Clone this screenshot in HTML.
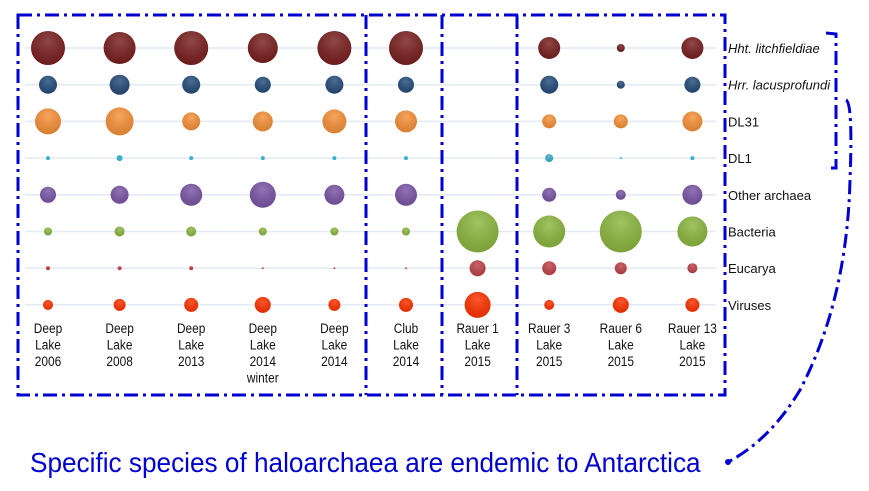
<!DOCTYPE html>
<html><head><meta charset="utf-8"><style>
body{margin:0;background:#fff;}
svg{display:block;font-family:"Liberation Sans",sans-serif;}
</style></head><body>
<svg id="chart" width="869" height="491" viewBox="0 0 869 491">
<defs>
<radialGradient id="shade" cx="50%" cy="30%" r="70%"><stop offset="0" stop-color="#fff" stop-opacity="0.18"/><stop offset="1" stop-color="#000" stop-opacity="0.12"/></radialGradient>
</defs>
<g id="grid"></g>
<g id="bubbles"></g>
<g id="xlabels"></g>
<g id="ylabels"></g>
<g fill="none" stroke="#0000d0" stroke-width="3" stroke-dasharray="14,5,3,5">
<rect x="18" y="15" width="707" height="380"/>
<line x1="366" y1="15" x2="366" y2="395"/>
<line x1="442" y1="15" x2="442" y2="395"/>
<line x1="517" y1="15" x2="517" y2="395"/>
<path d="M826,33 L836,34 L836,168 L826,168"/>
<path d="M846,100 Q853,103 850,180 Q847,300 800,390 Q770,440 728,462"/>
</g>
<circle cx="728" cy="462" r="3" fill="#0000d0"/>
<text x="30" y="472" font-size="28" fill="#0000d0" transform="translate(30,0) scale(0.935,1) translate(-30,0)">Specific species of haloarchaea are endemic to Antarctica</text>
</svg>
<script>
const categories=["Deep|Lake|2006","Deep|Lake|2008","Deep|Lake|2013","Deep|Lake|2014|winter","Deep|Lake|2014","Club|Lake|2014","Rauer 1|Lake|2015","Rauer 3|Lake|2015","Rauer 6|Lake|2015","Rauer 13|Lake|2015"];
const groups=["Hht. litchfieldiae","Hrr. lacusprofundi","DL31","DL1","Other archaea","Bacteria","Eucarya","Viruses"];
const colors=["#7a2020","#264d7a","#f7923a","#3bb0cc","#7b56a6","#8db840","#c0444a","#ff3300"];
const hht=[17,16,17,15,17,17,0,11,4,11];
const hrr=[9,10,9,8,9,8,0,9,4,8];
const dl31=[13,14,9,10,12,11,0,7,7,10];
const dl1=[2,3,2,2,2,2,0,4,1,2];
const other=[8,9,11,13,10,11,0,7,5,10];
const bacteria=[4,5,5,4,4,4,21,16,21,15];
const eucarya=[2,2,2,1,1,1,8,7,6,5];
const viruses=[5,6,7,8,6,7,13,5,8,7];
const series=[hht,hrr,dl31,dl1,other,bacteria,eucarya,viruses];
const NS="http://www.w3.org/2000/svg";
const xPos=i=>48+i*71.6;
const yPos=j=>48+j*36.7;
const mk=(t,a,p)=>{const e=document.createElementNS(NS,t);for(const k in a)e.setAttribute(k,a[k]);p.appendChild(e);return e;};
const grid=document.getElementById('grid'),bub=document.getElementById('bubbles'),xl=document.getElementById('xlabels'),yl=document.getElementById('ylabels');
groups.forEach((g,j)=>{
 const l=mk('line',{x1:25,x2:716,y1:yPos(j),y2:yPos(j),stroke:'#e2eaf4','stroke-width':1.5},grid);
 
 
 const t=mk('text',{x:728,y:yPos(j)+5,'font-size':13,fill:'#111','font-style':j<2?'italic':'normal'},yl);
 t.textContent=g;
 
 
 series[j].forEach((r,i)=>{
  if(r<=0)return;
  const c=mk('circle',{cx:xPos(i),cy:yPos(j),r:r,fill:colors[j]},bub);
  
  
  if(r>3){mk('circle',{cx:xPos(i),cy:yPos(j),r:r,fill:'url(#shade)'},bub);}
 });
});
categories.forEach((c,i)=>{
 const t=mk('text',{x:xPos(i),'text-anchor':'middle','font-size':14,fill:'#111',transform:`translate(${xPos(i)},0) scale(0.85,1) translate(${-xPos(i)},0)`},xl);
 
 
 c.split('|').forEach((s,k)=>{const ts=mk('tspan',{x:xPos(i),y:333+k*16.5},t);ts.textContent=s;});
});
</script>
</body></html>
